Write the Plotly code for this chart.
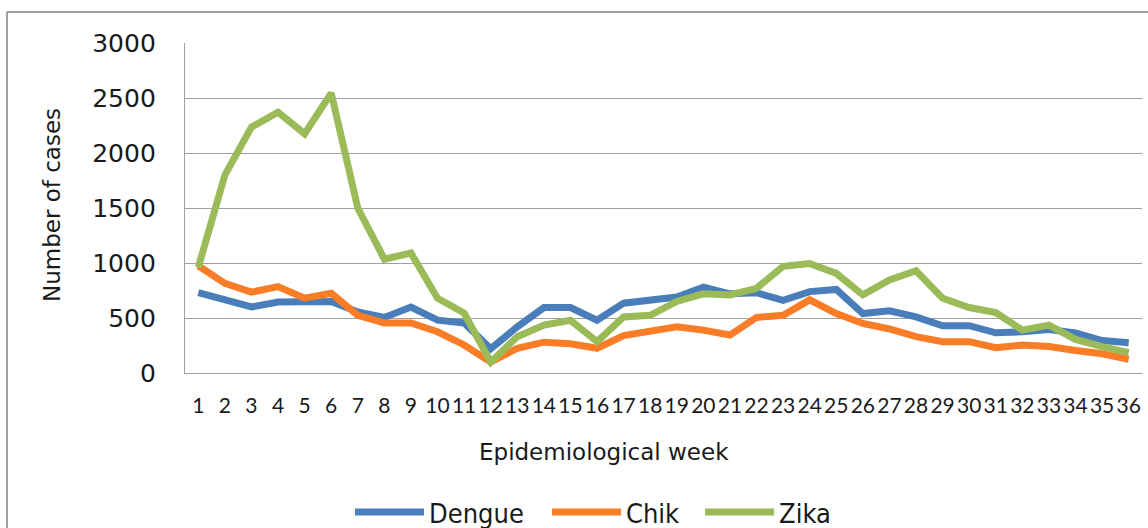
import plotly.graph_objects as go

weeks = [str(i) for i in range(1, 37)]
dengue = [730, 665, 600, 645, 650, 650, 555, 505, 600, 480, 455, 220, 420, 595, 595, 480, 635, 670,
          690, 780, 720, 730, 660, 740, 760, 540, 565, 510, 430, 430, 365, 375, 395, 365, 295, 275]
chik = [975, 815, 735, 785, 680, 725, 525, 455, 455, 375, 255, 100, 225, 280, 265, 225, 340, 375,
        420, 390, 345, 505, 525, 665, 540, 450, 400, 330, 285, 285, 230, 255, 240, 205, 175, 125]
zika = [960, 1800, 2235, 2370, 2175, 2545, 1500, 1035, 1090, 680, 545, 100, 330, 435, 480, 285, 510, 525,
        650, 720, 710, 770, 970, 995, 905, 710, 845, 930, 680, 595, 550, 390, 435, 305, 240, 185]
y_ticks = [0, 500, 1000, 1500, 2000, 2500, 3000]

series = [("Dengue", dengue, "#4A7EBB"), ("Chik", chik, "#F97D27"), ("Zika", zika, "#9BBB59")]

W, H = 1148, 528
L, R, T, B = 185, 6, 43, 155
PW, PH = W - L - R, H - T - B

def px_x(p):
    return (p - L) / PW

def px_y(p):
    return (H - B - p) / PH

fig = go.Figure()
for name, vals, col in series:
    fig.add_trace(go.Scatter(x=weeks, y=vals, mode="lines", name=name,
                             line=dict(color=col, width=7), showlegend=False))

fig.update_layout(
    width=W, height=H,
    margin=dict(l=L, r=R, t=T, b=B, pad=0),
    paper_bgcolor="white", plot_bgcolor="white",
    xaxis=dict(type="category", range=[-0.5, len(weeks) - 0.5], showgrid=False, showline=True,
               linecolor="#A0A0A0", linewidth=1.3,
               ticks="", tickangle=0, ticklabelstandoff=14,
               tickfont=dict(family="Lato", size=21, color="#1a1a1a")),
    yaxis=dict(range=[0, 3000], tickvals=y_ticks, showgrid=True, gridcolor="#A0A0A0", gridwidth=1.3,
               showline=True, linecolor="#A0A0A0", linewidth=1.3, zeroline=False, ticks="",
               ticklabelstandoff=23,
               tickfont=dict(family="DejaVu Sans", size=25, color="#1a1a1a")),
)

# outer chart frame
fig.add_shape(type="line", xref="paper", yref="paper", x0=px_x(7), x1=px_x(1160), y0=px_y(12), y1=px_y(12),
              line=dict(color="#808080", width=1.5))
fig.add_shape(type="line", xref="paper", yref="paper", x0=px_x(7), x1=px_x(7), y0=px_y(12), y1=px_y(540),
              line=dict(color="#808080", width=1.5))

# axis titles
fig.add_annotation(text="Number of cases", xref="paper", yref="paper", x=px_x(52), y=px_y(205),
                   textangle=-90, showarrow=False, xanchor="center", yanchor="middle",
                   font=dict(family="DejaVu Sans", size=23, color="#1a1a1a"))
fig.add_annotation(text="Epidemiological week", xref="paper", yref="paper", x=px_x(604), y=px_y(452),
                   showarrow=False, xanchor="center", yanchor="middle",
                   font=dict(family="DejaVu Sans", size=23, color="#1a1a1a"))

# legend
leg_y = 512
leg_starts = [355, 552, 705]
for (name, vals, col), x0 in zip(series, leg_starts):
    fig.add_shape(type="line", xref="paper", yref="paper", x0=px_x(x0), x1=px_x(x0 + 69),
                  y0=px_y(leg_y), y1=px_y(leg_y), line=dict(color=col, width=7))
    fig.add_annotation(text=name, xref="paper", yref="paper", x=px_x(x0 + 72), y=px_y(leg_y + 1),
                       showarrow=False, xanchor="left", yanchor="middle",
                       font=dict(family="DejaVu Sans Condensed", size=27, color="#1a1a1a"))

fig.write_html("out.html", config={"displayModeBar": False},
               post_script="document.body.style.margin='0';document.body.style.overflow='hidden';")
